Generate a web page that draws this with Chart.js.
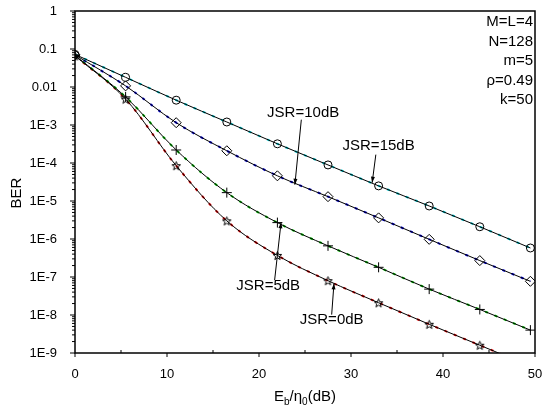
<!DOCTYPE html>
<html>
<head>
<meta charset="utf-8">
<script src="https://cdn.jsdelivr.net/npm/chart.js@4.4.0/dist/chart.umd.min.js"></script>
<style>
  html, body { margin: 0; padding: 0; background: #fff; }
  #wrap { width: 542px; height: 414px; }
</style>
</head>
<body>
<div id="wrap"><canvas id="berChart" width="542" height="414"></canvas></div>
<script>
// values
const ebn0 = [0, 5.5, 11, 16.5, 22, 27.5, 33, 38.5, 44, 49.5];
const berJsr15 = [0.072, 0.018, 4.5e-3, 1.2e-3, 3.2e-4, 8.9e-5, 2.5e-5, 7.4e-6, 2.1e-6, 5.8e-7];
const berJsr10 = [0.070, 0.0107, 1.15e-3, 2.1e-4, 4.6e-5, 1.3e-5, 3.6e-6, 9.8e-7, 2.7e-7, 7.7e-8];
const berJsr5  = [0.068, 5.5e-3, 2.2e-4, 1.66e-5, 2.7e-6, 6.6e-7, 1.8e-7, 4.8e-8, 1.4e-8, 4.0e-9];
const berJsr0  = [0.066, 4.8e-3, 8.5e-5, 3.0e-6, 3.7e-7, 8.0e-8, 2.1e-8, 5.7e-9, 1.6e-9, 4.5e-10];

const yTickValues = [1e-9, 1e-8, 1e-7, 1e-6, 1e-5, 1e-4, 1e-3, 0.01, 0.1, 1];
const yTickLabels = ['1E-9', '1E-8', '1E-7', '1E-6', '1E-5', '1E-4', '1E-3', '0.01', '0.1', '1'];
const xTickValues = [0, 10, 20, 30, 40, 50];
const xMinorValues = [5, 15, 25, 35, 45];

const paramLines = ['M=L=4', 'N=128', 'm=5', '\u03C1=0.49', 'k=50'];

// curve labels with arrows, in data units: text at (tx,ty), arrow from (ax0,ay0) to (ax1,ay1)
const curveNotes = [
  { text: 'JSR=10dB', tx: 24.8, ty: 10 ** -2.68, ax0: 24.6, ay0: 10 ** -2.86, ax1: 23.9, ay1: 10 ** -4.57 },
  { text: 'JSR=15dB', tx: 33.0, ty: 10 ** -3.55, ax0: 32.7, ay0: 10 ** -3.78, ax1: 32.3, ay1: 10 ** -4.52 },
  { text: 'JSR=5dB',  tx: 21.0, ty: 10 ** -7.24, ax0: 21.7, ay0: 10 ** -7.08, ax1: 22.4, ay1: 10 ** -5.56 },
  { text: 'JSR=0dB',  tx: 27.9, ty: 10 ** -8.13, ax0: 27.9, ay0: 10 ** -7.99, ax1: 28.15, ay1: 10 ** -7.17 }
];

const FONT = "'Liberation Sans', Arial, sans-serif";

// hollow five point star marker
function makeStar(size) {
  const c = document.createElement('canvas');
  c.width = size; c.height = size;
  const g = c.getContext('2d');
  const cx = size / 2, cy = size / 2 + 0.5, ro = size / 2 - 1, ri = ro * 0.42;
  g.beginPath();
  for (let i = 0; i < 10; i++) {
    const r = i % 2 === 0 ? ro : ri;
    const a = -Math.PI / 2 + i * Math.PI / 5;
    const px = cx + r * Math.cos(a), py = cy + r * Math.sin(a);
    if (i === 0) g.moveTo(px, py); else g.lineTo(px, py);
  }
  g.closePath();
  g.strokeStyle = '#000';
  g.lineWidth = 1;
  g.stroke();
  return c;
}
const starImg = makeStar(11);

function pts(ys) {
  return ebn0.map((x, i) => ({ x: x, y: ys[i] }));
}

function blackLine(ys, style, radius) {
  return {
    data: pts(ys),
    borderColor: '#000',
    borderWidth: 1,
    pointStyle: style,
    pointRadius: radius,
    pointBorderColor: '#000',
    pointBackgroundColor: 'rgba(0,0,0,0)',
    pointBorderWidth: 1,
    cubicInterpolationMode: 'monotone'
  };
}

function colourLine(ys, colour) {
  return {
    data: pts(ys),
    borderColor: colour,
    borderWidth: 2,
    borderDash: [3, 7],
    pointRadius: 0,
    cubicInterpolationMode: 'monotone'
  };
}

const decorPlugin = {
  id: 'decor',
  afterDraw(chart) {
    const ctx = chart.ctx;
    const a = chart.chartArea;
    const xs = chart.scales.x, ys = chart.scales.y;
    ctx.save();

    // frame
    ctx.strokeStyle = '#000';
    ctx.lineWidth = 1.5;
    ctx.strokeRect(a.left, a.top, a.right - a.left, a.bottom - a.top);

    // y ticks, major and minor
    ctx.lineWidth = 1;
    ctx.beginPath();
    for (let d = 0; d < yTickValues.length; d++) {
      const base = yTickValues[d];
      const yp = ys.getPixelForValue(base);
      ctx.moveTo(a.left - 5, yp); ctx.lineTo(a.left, yp);
      if (d < yTickValues.length - 1) {
        for (let k = 2; k <= 9; k++) {
          const ym = ys.getPixelForValue(base * k);
          ctx.moveTo(a.left - 3, ym); ctx.lineTo(a.left, ym);
        }
      }
    }
    // x ticks
    xTickValues.forEach(v => {
      const xp = xs.getPixelForValue(v);
      ctx.moveTo(xp, a.bottom); ctx.lineTo(xp, a.bottom + 4);
    });
    xMinorValues.forEach(v => {
      const xp = xs.getPixelForValue(v);
      ctx.moveTo(xp, a.bottom); ctx.lineTo(xp, a.bottom - 3);
    });
    ctx.stroke();

    // parameter block, top right
    ctx.fillStyle = '#000';
    ctx.font = '15px ' + FONT;
    ctx.textAlign = 'right';
    ctx.textBaseline = 'middle';
    paramLines.forEach((t, i) => {
      ctx.fillText(t, a.right - 2, a.top + 11 + i * 19.5);
    });

    // curve notes
    ctx.textAlign = 'center';
    curveNotes.forEach(n => {
      ctx.font = '15px ' + FONT;
      ctx.fillText(n.text, xs.getPixelForValue(n.tx), ys.getPixelForValue(n.ty));
      const x0 = xs.getPixelForValue(n.ax0), y0 = ys.getPixelForValue(n.ay0);
      const x1 = xs.getPixelForValue(n.ax1), y1 = ys.getPixelForValue(n.ay1);
      ctx.beginPath();
      ctx.moveTo(x0, y0); ctx.lineTo(x1, y1);
      ctx.lineWidth = 1;
      ctx.stroke();
      const ang = Math.atan2(y1 - y0, x1 - x0);
      const L = 6, W = 2;
      ctx.beginPath();
      ctx.moveTo(x1, y1);
      ctx.lineTo(x1 - L * Math.cos(ang) + W * Math.sin(ang), y1 - L * Math.sin(ang) - W * Math.cos(ang));
      ctx.lineTo(x1 - L * Math.cos(ang) - W * Math.sin(ang), y1 - L * Math.sin(ang) + W * Math.cos(ang));
      ctx.closePath();
      ctx.fill();
    });

    // x axis title: E_b/eta_0(dB)
    const cx = (a.left + a.right) / 2;
    const ty = 397;
    const parts = [['E', 15, 0], ['b', 10, 5], ['/\u03B7', 15, 0], ['0', 10, 5], ['(dB)', 15, 0]];
    let total = 0;
    parts.forEach(p => { ctx.font = p[1] + 'px ' + FONT; total += ctx.measureText(p[0]).width; });
    let px = cx - total / 2;
    ctx.textAlign = 'left';
    parts.forEach(p => {
      ctx.font = p[1] + 'px ' + FONT;
      ctx.fillText(p[0], px, ty + p[2]);
      px += ctx.measureText(p[0]).width;
    });

    // y axis title
    ctx.save();
    ctx.translate(17, 193);
    ctx.rotate(-Math.PI / 2);
    ctx.font = '15px ' + FONT;
    ctx.textAlign = 'center';
    ctx.fillText('BER', 0, 0);
    ctx.restore();

    ctx.restore();
  }
};

new Chart(document.getElementById('berChart'), {
  type: 'line',
  data: {
    datasets: [
      blackLine(berJsr15, 'circle', 4),
      blackLine(berJsr10, 'rectRot', 5),
      blackLine(berJsr5, 'cross', 5),
      blackLine(berJsr0, starImg, 5),
      colourLine(berJsr15, '#00c8d0'),
      colourLine(berJsr10, '#0000e0'),
      colourLine(berJsr5, '#00c000'),
      colourLine(berJsr0, '#e00000')
    ]
  },
  options: {
    responsive: false,
    animation: false,
    devicePixelRatio: 1,
    layout: { padding: { top: 11, right: 7, left: 0, bottom: 0 } },
    plugins: { legend: { display: false }, tooltip: { enabled: false } },
    scales: {
      x: {
        type: 'linear',
        min: 0,
        max: 50,
        afterBuildTicks: s => { s.ticks = xTickValues.map(v => ({ value: v })); },
        afterFit: s => { s.height = 61; s.paddingLeft = 0; s.paddingRight = 0; },
        grid: { display: false },
        border: { display: false },
        ticks: { color: '#000', font: { family: FONT, size: 13 }, padding: 6, maxRotation: 0 }
      },
      y: {
        type: 'logarithmic',
        min: 1e-9,
        max: 1,
        afterBuildTicks: s => { s.ticks = yTickValues.map(v => ({ value: v })); },
        afterFit: s => { s.width = 75; s.paddingTop = 0; s.paddingBottom = 0; },
        grid: { display: false },
        border: { display: false },
        ticks: {
          color: '#000',
          font: { family: FONT, size: 13 },
          padding: 10,
          callback: v => {
            const i = yTickValues.findIndex(t => Math.abs(Math.log10(t) - Math.log10(v)) < 1e-6);
            return i >= 0 ? yTickLabels[i] : '';
          }
        }
      }
    }
  },
  plugins: [decorPlugin]
});
</script>
</body>
</html>
